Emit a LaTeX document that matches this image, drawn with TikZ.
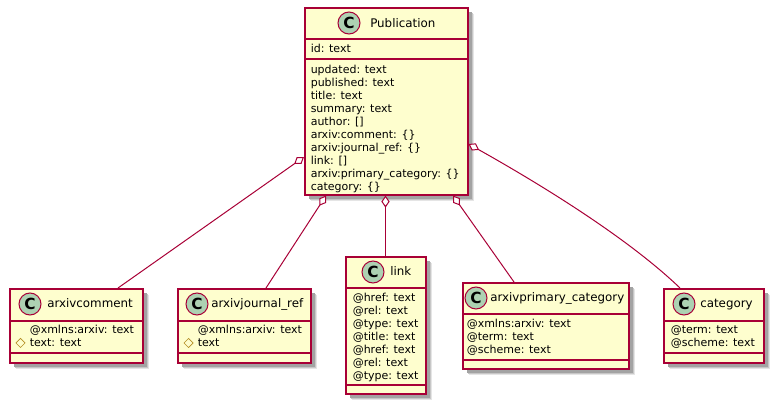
\documentclass[tikz,border=0pt]{standalone}
\usepackage{fontspec}
\setmainfont{DejaVu Sans}
\usetikzlibrary{arrows.meta,shadows,shapes.geometric}
\definecolor{umlline}{HTML}{A80036}
\definecolor{umlfill}{HTML}{FEFECE}
\definecolor{umlspot}{HTML}{ADD1B2}
\definecolor{umlprot}{HTML}{B38D22}
\tikzset{
  classbox/.style={draw=umlline,fill=umlfill,line width=1.2pt,anchor=north west,inner sep=0pt,
    general shadow={shadow xshift=4.8pt,shadow yshift=-4.8pt,fill=black!10,opacity=1},
    general shadow={shadow xshift=4pt,shadow yshift=-4pt,fill=black!22,opacity=1},
    general shadow={shadow xshift=3.2pt,shadow yshift=-3.2pt,fill=black!36,opacity=1}},
  classline/.style={draw=umlline,line width=.8pt},
  spot/.style={circle,draw=umlline,fill=umlspot,line width=.75pt,minimum size=16.5pt,inner sep=0pt,font=\bfseries\fontsize{11.5}{12}\selectfont},
  classname/.style={anchor=base west,inner sep=0pt,font=\fontsize{8.9}{11}\selectfont},
  member/.style={anchor=base west,inner sep=0pt,font=\fontsize{8.25}{10}\selectfont},
  protected/.style={diamond,draw=umlprot,line width=.5pt,minimum size=7pt,inner sep=0pt},
  aggr/.style={draw=umlline,line width=.75pt,{Diamond[open,fill=white,length=9pt,width=6.2pt]}-}
}
\begin{document}
\begin{tikzpicture}[x=.75pt,y=-.75pt]
\useasboundingbox (0,0) rectangle (776,406);
% boxes
\node[classbox,minimum width=122.25pt,minimum height=140.25pt] (publication) at (304,7) {};
\node[classbox,minimum width=99.75pt,minimum height=55.5pt] (arxivcomment) at (9,288) {};
\node[classbox,minimum width=99.75pt,minimum height=55.5pt] (arxivjournal) at (177,288) {};
\node[classbox,minimum width=60pt,minimum height=102.75pt] (link) at (345,256) {};
\node[classbox,minimum width=124.5pt,minimum height=64.5pt] (arxivprimary) at (462,282) {};
\node[classbox,minimum width=75pt,minimum height=55.5pt] (category) at (663,288) {};
% compartments
\draw[classline] (304,39) -- (468,39);
\draw[classline] (304,59) -- (468,59);
\draw[classline] (9,321) -- (142,321);
\draw[classline] (9,353) -- (142,353);
\draw[classline] (177,321) -- (310,321);
\draw[classline] (177,353) -- (310,353);
\draw[classline] (345,288) -- (425,288);
\draw[classline] (345,385) -- (425,385);
\draw[classline] (462,314) -- (628,314);
\draw[classline] (462,360) -- (628,360);
\draw[classline] (663,321) -- (763,321);
\draw[classline] (663,353) -- (763,353);
% titles
\node[spot] (publicationspot) at (349,23) {C};
\node[classname] (publicationname) at (370,27.5) {Publication};
\node[spot] (arxivcommentspot) at (30,304) {C};
\node[classname] (arxivcommentname) at (47,308) {arxivcomment};
\node[spot] (arxivjournalspot) at (197,304) {C};
\node[classname] (arxivjournalname) at (211,308) {arxivjournal\_ref};
\node[spot] (linkspot) at (373,272) {C};
\node[classname] (linkname) at (390,276) {link};
\node[spot] (arxivprimaryspot) at (476,298) {C};
\node[classname] (arxivprimaryname) at (490,302) {arxivprimary\_category};
\node[spot] (categoryspot) at (684,304) {C};
\node[classname] (categoryname) at (700,308) {category};
% members
\node[member] (publicationid) at (310.5,53) {id: text};
\foreach \txt [count=\i] in {updated: text,published: text,title: text,summary: text,author: [],{arxiv:comment: \{\}},{arxiv:journal\_ref: \{\}},link: [],{arxiv:primary\_category: \{\}},{category: \{\}}}
  \node[member] (publicationfield\i) at (310.5,{61+\i*12.96}) {\txt};
\node[member] (arxivcommentxmlns) at (29.5,334) {@xmlns:arxiv: text};
\node[member] (arxivcommenttext) at (29.5,347) {text: text};
\node[protected] (arxivcommentmark) at (20.5,343) {};
\node[member] (arxivjournalxmlns) at (197.5,334) {@xmlns:arxiv: text};
\node[member] (arxivjournaltext) at (197.5,347) {text};
\node[protected] (arxivjournalmark) at (188.5,343) {};
\foreach \txt [count=\i] in {@href: text,@rel: text,@type: text,@title: text,@href: text,@rel: text,@type: text}
  \node[member] (linkfield\i) at (352.5,{289+\i*12.96}) {\txt};
\foreach \txt [count=\i] in {@xmlns:arxiv: text,@term: text,@scheme: text}
  \node[member] (arxivprimaryfield\i) at (466.5,{315+\i*12.96}) {\txt};
\foreach \txt [count=\i] in {@term: text,@scheme: text}
  \node[member] (categoryfield\i) at (670.5,{321+\i*12.96}) {\txt};
% relations
\draw[aggr] (publication.west |- 0,157) -- (arxivcomment.north -| 118,0);
\draw[aggr] (publication.south -| 326,0) -- (arxivjournal.north -| 266,0);
\draw[aggr] (publication.south -| 385.5,0) -- (link.north -| 385.5,0);
\draw[aggr] (publication.south -| 453,0) -- (arxivprimary.north -| 514,0);
\draw[aggr] (publication.east |- 0,144) .. controls (547,188) and (630,240) .. (category.north -| 680,0);
\end{tikzpicture}
\end{document}
